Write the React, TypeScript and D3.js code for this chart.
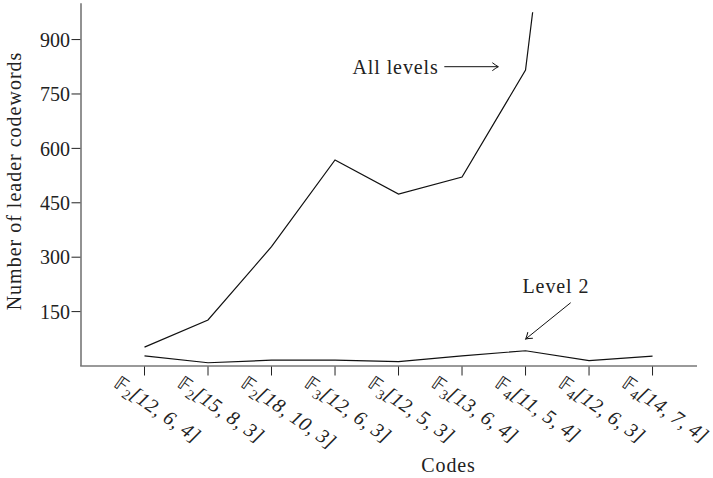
import React from "react";
import * as d3 from "d3";

const codes = [
  { field: "2", params: "[12, 6, 4]" },
  { field: "2", params: "[15, 8, 3]" },
  { field: "2", params: "[18, 10, 3]" },
  { field: "3", params: "[12, 6, 3]" },
  { field: "3", params: "[12, 5, 3]" },
  { field: "3", params: "[13, 6, 4]" },
  { field: "4", params: "[11, 5, 4]" },
  { field: "4", params: "[12, 6, 3]" },
  { field: "4", params: "[14, 7, 4]" },
];
const allLevels = [52, 127, 329, 568, 474, 521, 816, 2240];
const level2 = [28, 9, 16, 16, 12, 28, 42, 15, 27];
const yTicks = [150, 300, 450, 600, 750, 900];

const W = 713;
const H = 478;
const FONT = "'Liberation Serif', 'Times New Roman', serif";

export default function App() {
  const x = d3.scaleLinear().domain([0, 9.7]).range([81, 697]);
  const y = d3.scaleLinear().domain([0, 1000]).range([366, 3.3]);
  const clipTop = y(975);
  const line = d3
    .line<number>()
    .x((_, i) => x(i + 1))
    .y((d) => y(d));

  const arrowHead = "M-6,-4 Q-2,-1 0,0 Q-2,1 -6,4";

  return (
    <svg width={W} height={H} style={{ position: "absolute", left: 0, top: 0, background: "#fff" }}>
      <defs>
        <clipPath id="plotclip">
          <rect x={x(0)} y={clipTop} width={x(9.7) - x(0)} height={y(0) - clipTop} />
        </clipPath>
        <marker id="arr" viewBox="-8 -6 10 12" refX={0} refY={0} markerWidth={10} markerHeight={12} orient="auto" markerUnits="userSpaceOnUse">
          <path d={arrowHead} fill="none" stroke="#111" strokeWidth={1} />
        </marker>
      </defs>

      {/* y ticks */}
      {yTicks.map((t) => (
        <g key={t}>
          <line x1={x(0) - 9.5} x2={x(0)} y1={y(t)} y2={y(t)} stroke="#222" strokeWidth={1} />
          <text x={x(0) - 11} y={y(t)} dy="0.36em" textAnchor="end" fontFamily={FONT} fontSize={20} fill="#222">
            {t}
          </text>
        </g>
      ))}

      {/* x ticks */}
      {codes.map((c, i) => {
        const tx = x(i + 1);
        const lx = tx - 32;
        const ly = 386;
        return (
          <g key={i}>
            <line x1={tx} x2={tx} y1={y(0)} y2={y(0) + 9.5} stroke="#222" strokeWidth={1} />
            <text
              x={lx}
              y={ly}
              transform={`rotate(35 ${lx} ${ly})`}
              fontFamily={FONT}
              fontSize={20}
              fill="#222"
            >
              <tspan fontFamily="'DejaVu Sans', sans-serif" fontSize={19}>𝔽</tspan>
              <tspan fontSize={14} dy={4}>{c.field}</tspan>
              <tspan dy={-4} fontStyle="italic" letterSpacing={0.5}>{c.params}</tspan>
            </text>
          </g>
        );
      })}

      {/* axes */}
      <line x1={x(0)} x2={x(0)} y1={y(1000)} y2={y(0)} stroke="#777" strokeWidth={1.6} />
      <line x1={x(0) - 0.8} x2={x(9.7)} y1={y(0)} y2={y(0)} stroke="#777" strokeWidth={1.6} />

      {/* series */}
      <g clipPath="url(#plotclip)">
        <path d={line(allLevels) ?? ""} fill="none" stroke="#111" strokeWidth={1.2} />
        <path d={line(level2) ?? ""} fill="none" stroke="#111" strokeWidth={1.2} />
      </g>

      {/* annotations */}
      <text x={352.5} y={66.7} dy="0.36em" fontFamily={FONT} fontSize={20} letterSpacing={0.9} fill="#222">
        All levels
      </text>
      <line x1={444.3} y1={66.7} x2={498.3} y2={66.7} stroke="#111" strokeWidth={1} markerEnd="url(#arr)" />

      <text x={522.5} y={286} dy="0.36em" fontFamily={FONT} fontSize={20} letterSpacing={0.9} fill="#222">
        Level 2
      </text>
      <line x1={570.7} y1={302.7} x2={525.7} y2={339} stroke="#111" strokeWidth={1} markerEnd="url(#arr)" />

      {/* axis titles */}
      <text x={448.5} y={465} dy="0.36em" textAnchor="middle" fontFamily={FONT} fontSize={20} letterSpacing={0.9} fill="#222">
        Codes
      </text>
      <text
        transform={`translate(14 181) rotate(-90)`}
        dy="0.36em"
        textAnchor="middle"
        fontFamily={FONT}
        fontSize={20}
        letterSpacing={1}
        fill="#222"
      >
        Number of leader codewords
      </text>
    </svg>
  );
}
